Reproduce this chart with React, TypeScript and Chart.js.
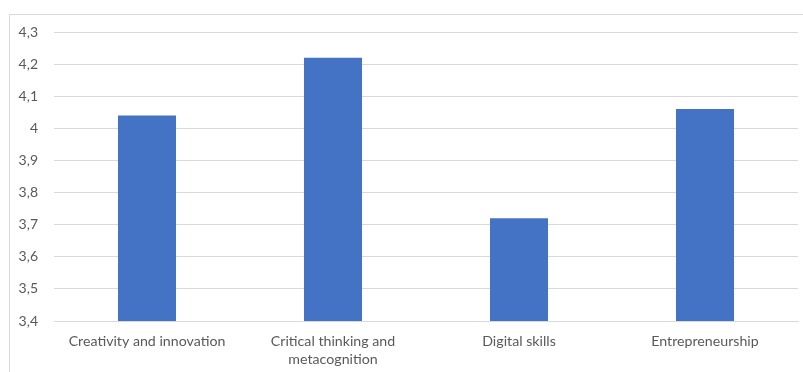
import React, { useEffect, useRef } from "react";
import { Chart, registerables } from "chart.js";

Chart.register(...registerables);

const categories: (string | string[])[] = [
  "Creativity and innovation",
  ["Critical thinking and", "metacognition"],
  "Digital skills",
  "Entrepreneurship",
];
const values: number[] = [4.04, 4.22, 3.72, 4.06];
const yMin = 3.4;
const yMax = 4.3;
const yStep = 0.1;

export default function App() {
  const ref = useRef<HTMLCanvasElement | null>(null);

  useEffect(() => {
    document.body.style.margin = "0";
    const ctx = ref.current!;
    const xFont = { family: "Lato, 'Open Sans', sans-serif", size: 14.2, lineHeight: 1.3 };
    const yFont = { family: "Lato, 'Open Sans', sans-serif", size: 14 };
    const chart = new Chart(ctx, {
      type: "bar",
      data: {
        labels: categories,
        datasets: [
          {
            data: values,
            backgroundColor: "#4472C4",
            borderWidth: 0,
            barPercentage: 0.312,
            categoryPercentage: 1,
          },
        ],
      },
      options: {
        animation: false,
        responsive: false,
        maintainAspectRatio: false,
        layout: { padding: { top: 32, right: 5, left: 0, bottom: 0 } },
        plugins: { legend: { display: false }, tooltip: { enabled: false } },
        scales: {
          x: {
            grid: { display: false, drawTicks: false },
            border: { display: true, color: "#d9d9d9", width: 1 },
            ticks: { color: "#595959", font: xFont, padding: 11, maxRotation: 0, autoSkip: false },
            afterFit: (s: any) => {
              s.height = 51;
            },
          },
          y: {
            min: yMin,
            max: yMax,
            grid: { color: "#d9d9d9", lineWidth: 1, drawTicks: false },
            border: { display: false },
            ticks: {
              stepSize: yStep,
              color: "#595959",
              font: yFont,
              padding: 16,
              callback: (v: any) => Number(Number(v).toFixed(1)).toString().replace(".", ","),
            },
            afterFit: (s: any) => {
              s.width = 54;
            },
          },
        },
      },
    });
    return () => chart.destroy();
  }, []);

  return (
    <div style={{ position: "fixed", left: 0, top: 0, width: 803, height: 372, background: "#fff", overflow: "hidden" }}>
      <div
        style={{
          position: "absolute",
          left: 9,
          top: 14,
          width: 820,
          height: 400,
          border: "1px solid #d9d9d9",
          boxSizing: "border-box",
        }}
      />
      <canvas ref={ref} width={803} height={372} style={{ position: "absolute", left: 0, top: 0 }} />
    </div>
  );
}
